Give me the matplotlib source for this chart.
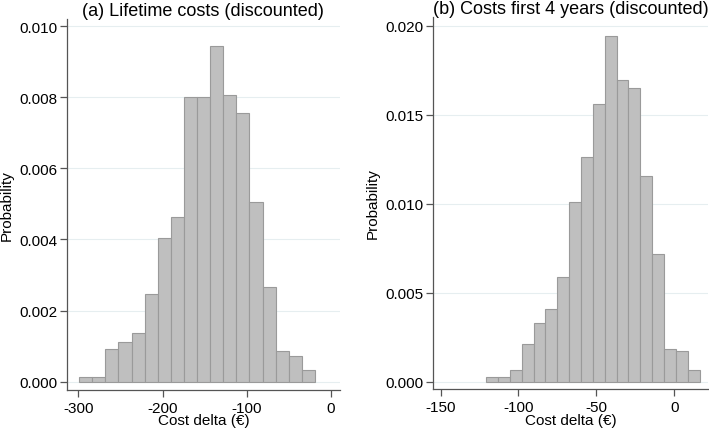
import numpy as np
import matplotlib.pyplot as plt

plt.rcParams['font.family'] = ['Liberation Sans', 'DejaVu Sans']
plt.rcParams['axes.unicode_minus'] = False

# (a) lifetime costs: histogram bins and probabilities
life_start, life_width = -299.0, 15.55
life_prob = [0.00013, 0.00013, 0.00091, 0.00111, 0.00137, 0.00247, 0.00403, 0.00462, 0.0080,
             0.0080, 0.00945, 0.00807, 0.00756, 0.00506, 0.00267, 0.00086, 0.00073, 0.00033]

# (b) costs first 4 years
four_start, four_width = -120.7, 7.6
four_prob = [0.00024, 0.00024, 0.00065, 0.00211, 0.00328, 0.00409, 0.00588, 0.0101, 0.01261,
             0.01562, 0.01945, 0.01697, 0.01654, 0.01156, 0.0072, 0.00183, 0.00172, 0.00065]

titles = ["(a) Lifetime costs (discounted)", "(b) Costs first 4 years (discounted)"]


def histpanel(ax, start, width, prob, title, xticks, yticks, xlim, ylim):
    edges = start + width * np.arange(len(prob))
    ax.bar(edges, prob, width=width, align='edge', color='#bfbfbf',
           edgecolor='#9a9a9a', linewidth=0.8, zorder=2)
    ax.set_xticks(xticks)
    ax.set_yticks(yticks)
    ax.set_yticklabels(['%.3f' % v for v in yticks])
    ax.set_xlim(*xlim)
    ax.set_ylim(*ylim)
    ax.grid(axis='y', color='#e6eef0', linewidth=0.8, zorder=0)
    for s in ['top', 'right']:
        ax.spines[s].set_visible(False)
    for s in ['left', 'bottom']:
        ax.spines[s].set_color('#555555')
        ax.spines[s].set_linewidth(0.9)
    ax.tick_params(colors='#555555', labelcolor='black', labelsize=11, length=5, width=0.9)
    ax.tick_params(axis='y', pad=1.5)
    ax.tick_params(axis='x', pad=3)
    ax.set_xlabel("Cost delta (€)", fontsize=11, labelpad=-1)
    ax.set_ylabel("Probability", fontsize=11, labelpad=4)
    ax.set_title(title, fontsize=13, pad=2)


fig = plt.figure(figsize=(7.09, 4.31), dpi=100)
ax1 = fig.add_axes([0.094, 0.0935, 0.3856, 0.86])
ax2 = fig.add_axes([0.6103, 0.0951, 0.3883, 0.863])

histpanel(ax1, life_start, life_width, life_prob, titles[0],
          [-300, -200, -100, 0], [0, 0.002, 0.004, 0.006, 0.008, 0.010],
          (-313.8, 10.7), (-0.000225, 0.0102))
histpanel(ax2, four_start, four_width, four_prob, titles[1],
          [-150, -100, -50, 0], [0, 0.005, 0.010, 0.015, 0.020],
          (-155, 21.5), (-0.00041, 0.0205))

fig.savefig('out.png', dpi=100)
